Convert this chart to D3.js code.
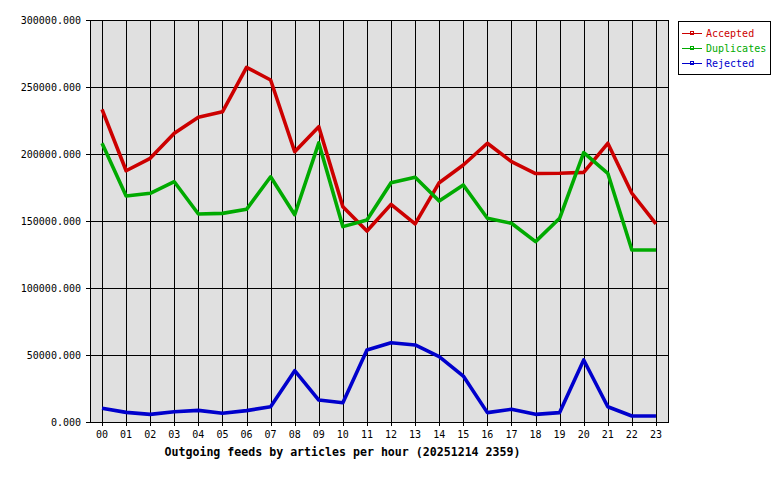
<!DOCTYPE html>
<html>
<head>
    <meta charset="utf-8">
    <title>outgoing-feeds</title>
    <script src="https://cdn.jsdelivr.net/npm/d3@7"></script>
    <style type="text/css">
        body { margin: 0; background: #fff; }
        text { font-family: "DejaVu Sans Mono", monospace; }
    </style>
</head>
<body>
<div id="app"></div>
<script type="text/javascript">
    var hours = ['00','01','02','03','04','05','06','07','08','09','10','11',
                 '12','13','14','15','16','17','18','19','20','21','22','23'];
    var accepted   = [233300, 187500, 196800, 215400, 227400, 231500, 264700, 255200, 201700, 220400, 160700, 142500,
                      162400, 147800, 178600, 191800, 208000, 194300, 185400, 185600, 186300, 208000, 170700, 147800];
    var duplicates = [208000, 168700, 170700, 179300, 155200, 155700, 158700, 183000, 154700, 208300, 145800, 150700,
                      178600, 182600, 164900, 176900, 152000, 148300, 134600, 152000, 201000, 185600, 128400, 128400];
    var rejected   = [10200, 7200, 5700, 7700, 8700, 6500, 8500, 11400, 38300, 16400, 14400, 53700,
                      59200, 57500, 48800, 34300, 7000, 9500, 5700, 7000, 46300, 11400, 4500, 4500];
    var yTicks = [0, 50000, 100000, 150000, 200000, 250000, 300000];

    !function () {
        var w = 780, h = 480;
        var left = 90, top = 20, right = 668, bottom = 422;

        var svg = d3.select('#app').append('svg').attr('width', w).attr('height', h);

        var x = d3.scaleBand().domain(hours).range([left, right]);
        var y = d3.scaleLinear().domain([0, 300000]).range([bottom, top]);
        var cx = function (d) { return x(d) + x.bandwidth() / 2; };

        // plot background
        svg.append('rect')
            .attr('x', left).attr('y', top)
            .attr('width', right - left).attr('height', bottom - top)
            .attr('fill', '#e0e0e0');

        // grid
        svg.selectAll('line.vgrid').data(hours).enter().append('line')
            .attr('x1', function (d) { return Math.round(cx(d)) + 0.5; })
            .attr('x2', function (d) { return Math.round(cx(d)) + 0.5; })
            .attr('y1', top).attr('y2', bottom + 4)
            .attr('stroke', '#000').attr('stroke-width', 1);
        svg.selectAll('line.hgrid').data(yTicks).enter().append('line')
            .attr('x1', left - 4).attr('x2', right)
            .attr('y1', function (d) { return Math.round(y(d)) + 0.5; })
            .attr('y2', function (d) { return Math.round(y(d)) + 0.5; })
            .attr('stroke', '#000').attr('stroke-width', 1);

        // frame
        svg.append('rect')
            .attr('x', left + 0.5).attr('y', top + 0.5)
            .attr('width', right - left).attr('height', bottom - top)
            .attr('fill', 'none').attr('stroke', '#000');

        // y labels
        svg.selectAll('text.ylab').data(yTicks).enter().append('text')
            .attr('x', 81)
            .attr('y', function (d) { return y(d) + 3.5; })
            .attr('text-anchor', 'end')
            .attr('font-size', '10px')
            .attr('fill', '#000')
            .text(function (d) { return d3.format('.3f')(d); });

        // x labels
        svg.selectAll('text.xlab').data(hours).enter().append('text')
            .attr('x', function (d) { return cx(d); })
            .attr('y', 438)
            .attr('text-anchor', 'middle')
            .attr('font-size', '10px')
            .attr('fill', '#000')
            .text(function (d) { return d; });

        // title
        svg.append('text')
            .attr('x', 342.5).attr('y', 456)
            .attr('text-anchor', 'middle')
            .attr('font-size', '11.6px')
            .attr('font-weight', 'bold')
            .attr('fill', '#000')
            .text('Outgoing feeds by articles per hour (20251214 2359)');

        var series = [
            {name: 'Accepted', values: accepted, color: '#cc0000'},
            {name: 'Duplicates', values: duplicates, color: '#00aa00'},
            {name: 'Rejected', values: rejected, color: '#0000cc'}
        ];

        var line = d3.line()
            .x(function (d, i) { return cx(hours[i]); })
            .y(function (d) { return y(d); });

        series.forEach(function (s) {
            svg.append('path')
                .attr('d', line(s.values))
                .attr('fill', 'none')
                .attr('stroke', s.color)
                .attr('stroke-width', 3.6)
                .attr('stroke-linejoin', 'round');
        });

        // legend
        svg.append('rect')
            .attr('x', 678.5).attr('y', 21.5)
            .attr('width', 92).attr('height', 53)
            .attr('fill', '#fff').attr('stroke', '#000');
        var lg = svg.selectAll('g.leg').data(series).enter().append('g')
            .attr('transform', function (d, i) { return 'translate(682,' + (33 + i * 15) + ')'; });
        lg.append('line')
            .attr('x1', 0).attr('x2', 20).attr('y1', 0.5).attr('y2', 0.5)
            .attr('stroke', function (d) { return d.color; });
        lg.append('rect')
            .attr('x', 8.5).attr('y', -1.5).attr('width', 3).attr('height', 3)
            .attr('fill', 'none')
            .attr('stroke', function (d) { return d.color; });
        lg.append('text')
            .attr('x', 24).attr('y', 4)
            .attr('font-size', '10px')
            .attr('fill', function (d) { return d.color; })
            .text(function (d) { return d.name; });
    }();
</script>
</body>
</html>
